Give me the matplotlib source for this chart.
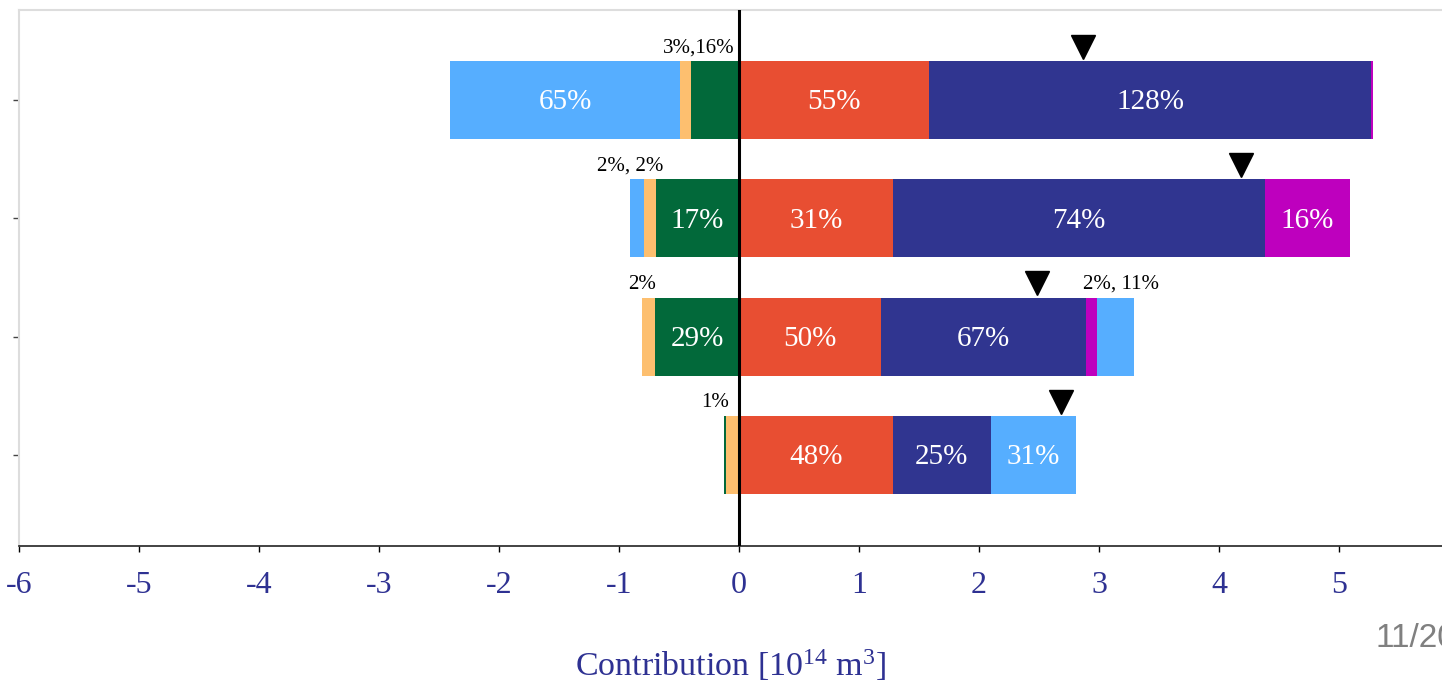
"""
Stacked contribution bars (negative / positive) with net-value markers
"""

import matplotlib
matplotlib.use('Agg')
import matplotlib.pyplot as plt
import numpy as np

plt.rcParams['font.family'] = ['Liberation Serif', 'DejaVu Serif']
plt.rcParams['mathtext.fontset'] = 'custom'
plt.rcParams['mathtext.rm'] = 'Liberation Serif'
plt.rcParams['mathtext.it'] = 'Liberation Serif:italic'

# rows from top to bottom
n_rows = 4

# negative side, stacked outward from zero [10^14 m^3]
green = [0.40, 0.69, 0.70, 0.00]
orange = [0.09, 0.10, 0.11, 0.11]
green_outer = [0.00, 0.00, 0.00, 0.015]
lightblue_neg = [1.92, 0.12, 0.00, 0.00]

# positive side, stacked outward from zero
red = [1.58, 1.28, 1.18, 1.28]
navy = [3.69, 3.10, 1.71, 0.82]
magenta = [0.01, 0.71, 0.09, 0.00]
lightblue_pos = [0.00, 0.00, 0.31, 0.71]

# labels written inside segments
green_lbl = ['', '17%', '29%', '']
orange_lbl = ['', '', '', '']
green_outer_lbl = ['', '', '', '']
lightblue_neg_lbl = ['65%', '', '', '']
red_lbl = ['55%', '31%', '50%', '48%']
navy_lbl = ['128%', '74%', '67%', '25%']
magenta_lbl = ['', '16%', '', '']
lightblue_pos_lbl = ['', '', '', '31%']

# small notes above the bars for thin segments
neg_note = ['3%,16%', '2%, 2%', '2%', '1%']
pos_note = ['', '', '2%, 11%', '']

c_green = '#02693A'
c_orange = '#FDBF6F'
c_lightblue = '#56AEFF'
c_red = '#E84E32'
c_navy = '#303590'
c_magenta = '#BE00BE'
c_tick = '#2E3192'

W, H = 1442, 681
fig = plt.figure(figsize=(W / 100, H / 100), dpi=100)
ax = fig.add_axes([19 / W, (H - 546) / H, (W - 19) / W, (546 - 10) / H])

y = np.arange(n_rows)[::-1].astype(float)
bar_h = 0.66

neg_series = [(green, green_lbl, c_green),
              (orange, orange_lbl, c_orange),
              (green_outer, green_outer_lbl, c_green),
              (lightblue_neg, lightblue_neg_lbl, c_lightblue)]
pos_series = [(red, red_lbl, c_red),
              (navy, navy_lbl, c_navy),
              (magenta, magenta_lbl, c_magenta),
              (lightblue_pos, lightblue_pos_lbl, c_lightblue)]

# negative side
left = np.zeros(n_rows)
for vals, lbls, col in neg_series:
    v = np.array(vals)
    ax.barh(y, -v, left=left, height=bar_h, color=col, linewidth=0)
    for i in range(n_rows):
        if lbls[i]:
            ax.text(left[i] - v[i] / 2, y[i] - 0.02, lbls[i], ha='center', va='center',
                    color='white', fontsize=21)
    left = left - v
neg_end = left.copy()

# positive side
left = np.zeros(n_rows)
mag_start = np.zeros(n_rows)
for vals, lbls, col in pos_series:
    v = np.array(vals)
    if col == c_magenta:
        mag_start = left.copy()
    ax.barh(y, v, left=left, height=bar_h, color=col, linewidth=0)
    for i in range(n_rows):
        if lbls[i]:
            ax.text(left[i] + v[i] / 2, y[i] - 0.02, lbls[i], ha='center', va='center',
                    color='white', fontsize=21)
    left = left + v
pos_end = left.copy()

# net contribution markers
net = pos_end + neg_end
ax.plot(net, y + bar_h / 2 + 0.12, linestyle='none', marker='v', color='black',
        markersize=17)

# notes for the thin segments
for i in range(n_rows):
    top = y[i] + bar_h / 2 + 0.03
    if neg_note[i]:
        if neg_end[i] < -1.5:
            ax.text(-0.04, top, neg_note[i], ha='right', va='bottom', fontsize=15)
        elif neg_end[i] > -0.3:
            ax.text(neg_end[i] + 0.04, top, neg_note[i], ha='right', va='bottom', fontsize=15)
        else:
            ax.text(neg_end[i], top, neg_note[i], ha='center', va='bottom', fontsize=15)
    if pos_note[i]:
        ax.text(mag_start[i] - 0.02, top, pos_note[i], ha='left', va='bottom', fontsize=15)

ax.axvline(0, color='black', linewidth=2.2, zorder=5)

ax.set_xlim(-6, -6 + (W - 19) / 120)
ax.set_ylim(-0.77, 3.76)
ax.set_xticks(np.arange(-6, 6))
ax.set_xticklabels([str(t) for t in range(-6, 6)])
ax.set_yticks(y)
ax.set_yticklabels([])
ax.tick_params(axis='x', direction='out', length=4, width=1, colors='black',
               labelcolor=c_tick, labelsize=23, pad=14)
ax.tick_params(axis='y', direction='out', length=4, width=1, colors='#444444')

ax.spines['right'].set_visible(False)
ax.spines['top'].set_color('#dddddd')
ax.spines['top'].set_linewidth(1.5)
ax.spines['left'].set_color('#dddddd')
ax.spines['left'].set_linewidth(1.5)
ax.spines['bottom'].set_color('#222222')
ax.spines['bottom'].set_linewidth(1.2)

ax.set_xlabel('Contribution [10$^{14}$ m$^{3}$]', fontsize=24.5, color=c_tick, labelpad=34)

fig.text(1375 / W, 1 - 647 / H, '11/20', color='#808080', fontsize=24,
         family=['Liberation Sans', 'DejaVu Sans'], va='baseline', ha='left')

fig.savefig('out.png', dpi=100)
